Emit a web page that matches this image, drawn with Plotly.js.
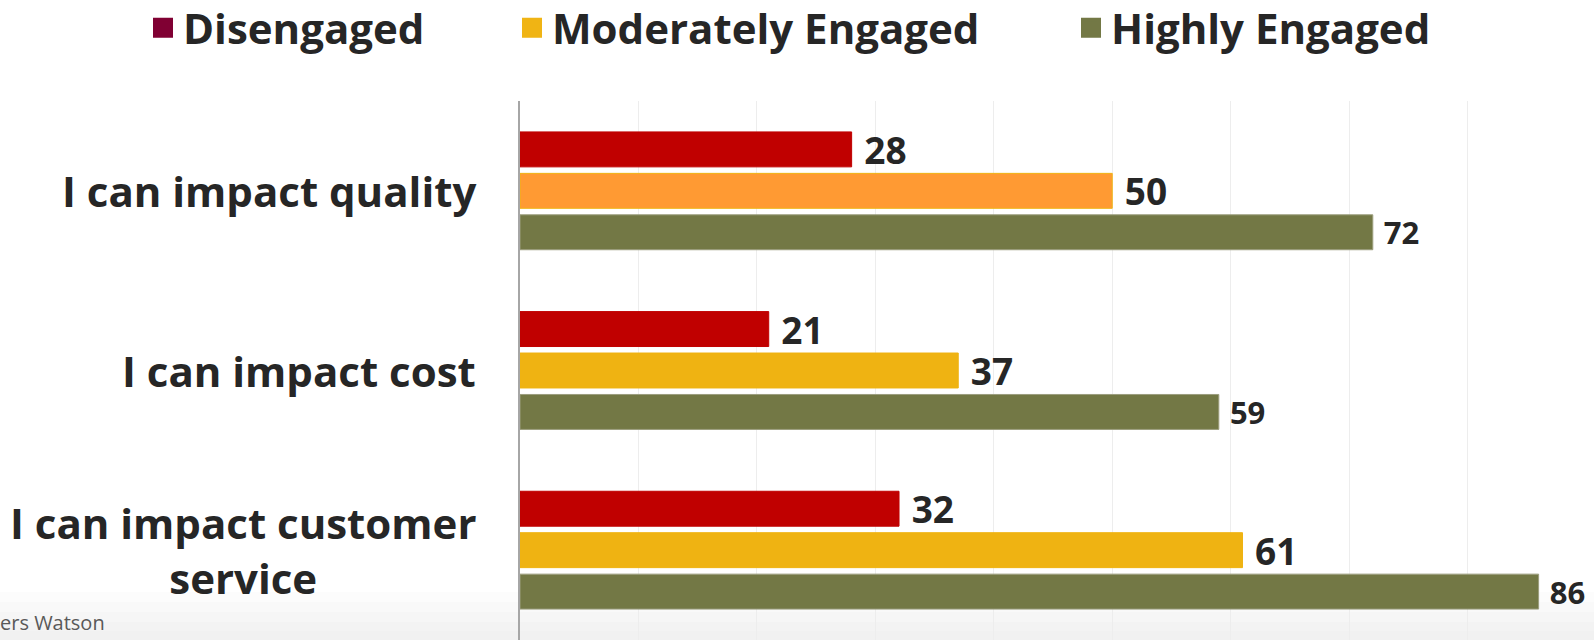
<!DOCTYPE html>
<html>
<head>
<meta charset="utf-8">
<script src="https://cdn.plot.ly/plotly-3.0.1.min.js"></script>
<style>html,body{margin:0;padding:0;background:#fff;}#chart{width:1594px;height:640px;}</style>
</head>
<body>
<div id="chart"></div>
<script>
// ---- data ----
const categories = ['I can impact quality', 'I can impact cost', 'I can impact customer service'];
const categoryLabels = ['I can impact quality', 'I can impact cost', 'I can impact customer<br>service'];
const seriesNames = ['Disengaged', 'Moderately Engaged', 'Highly Engaged'];
const disengaged = [28, 21, 32];
const moderatelyEngaged = [50, 37, 61];
const highlyEngaged = [72, 59, 86];
const sourceNote = 'ers Watson';

// ---- styles ----
const FONT = 'Open Sans, Lato, DejaVu Sans, sans-serif';
const TXT = '#262626';
const barColors = [
  ['#C00000', '#C00000', '#C00000'],
  ['#FF9A33', '#EFB312', '#EFB312'],
  ['#737845', '#737845', '#737845']
];
const barLineColors = [
  ['#C00000', '#C00000', '#C00000'],
  ['#F0B414', '#EFB312', '#EFB312'],
  ['#9C9E7E', '#9C9E7E', '#9C9E7E']
];
const legendColors = ['#800033', '#F0B414', '#737845'];
const labelSizes = [37, 37, 31];

const values = [disengaged, moderatelyEngaged, highlyEngaged];
const traces = [];
values.forEach((v, i) => {
  traces.push({
    type: 'bar', orientation: 'h',
    x: v, y: categories,
    name: seriesNames[i],
    showlegend: false,
    marker: {color: barColors[i], line: {color: barLineColors[i], width: 1}},
    text: v.map(String),
    texttemplate: '\u00a0%{text}',
    textposition: 'outside',
    constraintext: 'none',
    cliponaxis: false,
    textfont: {family: FONT, size: labelSizes[i], color: TXT, weight: 700},
    hoverinfo: 'x+name'
  });
});
// legend entries (one legend each so their positions follow the reference)
const legendIds = ['legend', 'legend2', 'legend3'];
seriesNames.forEach((n, i) => {
  traces.push({
    type: 'scatter', mode: 'markers',
    x: [null], y: [null],
    name: n,
    legend: legendIds[i],
    marker: {symbol: 'square', size: 16, color: legendColors[i], line: {color: legendColors[i], width: 4}},
    hoverinfo: 'skip'
  });
});

const L = 520, R = 8, T = 101, B = 0;
const plotW = 1594 - L - R, plotH = 640 - T - B;
const px = p => (p - L) / plotW;
const py = p => (640 - B - p) / plotH;
const legFont = {family: FONT, size: 42, color: TXT, weight: 700};
function leg(x) {
  return {orientation: 'h', x: x, xanchor: 'left', y: py(28), yanchor: 'middle',
          font: legFont, bgcolor: 'rgba(0,0,0,0)', borderwidth: 0, itemclick: false};
}

const annotations = categories.map((c, i) => ({
  xref: 'paper', yref: 'y', x: px(478), y: c,
  xanchor: 'right', yanchor: 'middle', align: 'center',
  text: categoryLabels[i], showarrow: false,
  font: {family: FONT, size: 42, color: TXT, weight: 700}
}));
annotations.push({
  xref: 'paper', yref: 'paper', x: px(-2), y: py(622),
  xanchor: 'left', yanchor: 'middle', text: sourceNote, showarrow: false,
  font: {family: FONT, size: 20, color: '#595959'}
});

// soft grey fade at the bottom of the slide
const shapes = [];
[592, 602, 612, 622, 631].forEach(p => {
  shapes.push({type: 'rect', xref: 'paper', yref: 'paper', layer: 'below',
    x0: px(0), x1: px(1594), y0: py(640), y1: py(p),
    fillcolor: '#D9D9D9', opacity: 0.09, line: {width: 0}});
});

const layout = {
  width: 1594, height: 640,
  margin: {l: L, r: R, t: T, b: B, pad: 0, autoexpand: false},
  paper_bgcolor: '#ffffff', plot_bgcolor: 'rgba(0,0,0,0)',
  barmode: 'group', bargap: 0.308, bargroupgap: 0.157,
  showlegend: true,
  legend: leg(px(143)), legend2: leg(px(512)), legend3: leg(px(1071)),
  xaxis: {range: [0, 90], dtick: 10, tick0: 0, showgrid: true, gridcolor: '#EDEDED', gridwidth: 1,
          showticklabels: false, zeroline: false, showline: false, ticks: '', automargin: false},
  yaxis: {type: 'category', categoryorder: 'array', categoryarray: categories,
          range: [2.5, -0.5], showticklabels: false, showgrid: false, zeroline: false,
          showline: true, linecolor: '#A6A6A6', linewidth: 2, ticks: '', automargin: false},
  annotations: annotations,
  shapes: shapes,
  font: {family: FONT, color: TXT}
};

Plotly.newPlot('chart', traces, layout, {displayModeBar: false, staticPlot: true});
</script>
</body>
</html>
